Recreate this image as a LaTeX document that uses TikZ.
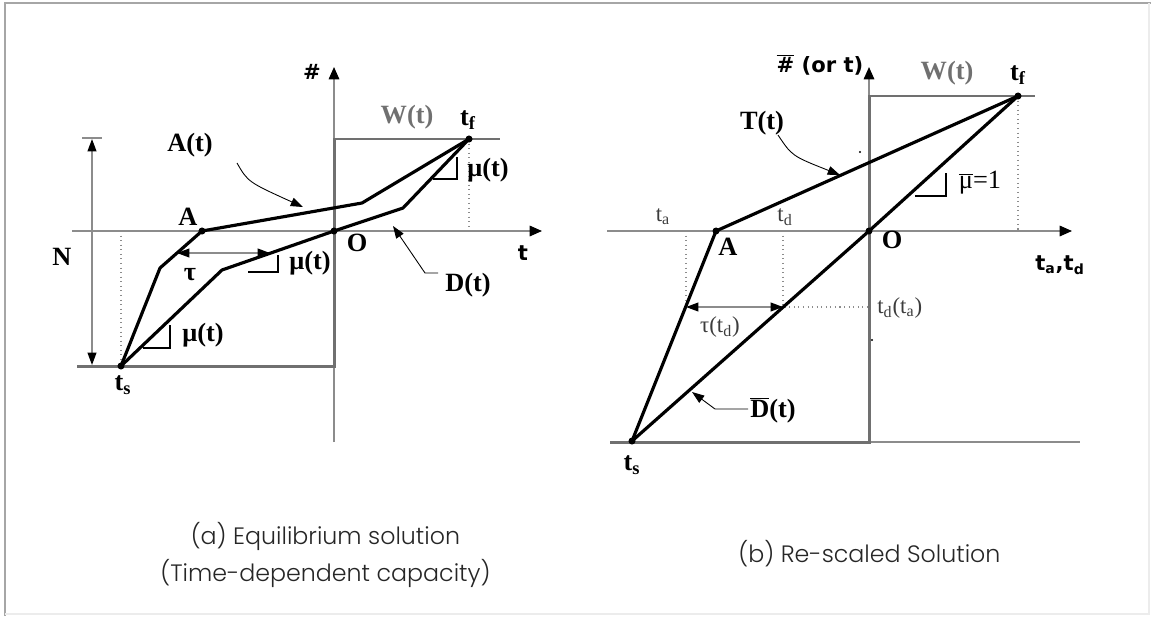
\documentclass[tikz,border=0pt]{standalone}
\usepackage{fontspec}
\setmainfont{Liberation Serif}
\newfontfamily\capfont{Poppins}[UprightFont={* Light}]
\newfontfamily\axfont{DejaVu Sans}
\usetikzlibrary{arrows.meta}
\definecolor{wgray}{RGB}{112,112,112}
\definecolor{agray}{RGB}{140,140,140}
\definecolor{txtgray}{RGB}{60,60,60}
\tikzset{
  axisline/.style={draw=agray, line width=0.8pt},
  axistip/.style={-{Triangle[length=7pt,width=6pt,color=black]}},
  twotip/.style={{Triangle[length=7pt,width=5pt,color=black]}-{Triangle[length=7pt,width=5pt,color=black]}},
  wline/.style={draw=wgray, line width=1.7pt},
  curve/.style={draw=black, line width=1.8pt, line join=round},
  guide/.style={draw=agray, dotted, line width=0.6pt},
  slope/.style={draw=black, line width=0.6pt},
  leader/.style={draw=black, line width=0.5pt, -{Triangle[length=7pt,width=5pt]}},
  lbl/.style={font=\fontsize{15}{17}\selectfont\bfseries, inner sep=0pt},
  rlbl/.style={font=\fontsize{15}{17}\selectfont, inner sep=0pt},
  sublbl/.style={font=\fontsize{13}{15}\selectfont, text=txtgray, inner sep=0pt},
  axlbl/.style={font=\fontsize{12}{14}\selectfont\axfont\bfseries, inner sep=0pt},
  caption/.style={font=\fontsize{13.5}{21}\selectfont\capfont, text=black!85, inner sep=0pt, align=center},
}

\begin{document}
\begin{tikzpicture}[x=0.02cm, y=-0.02cm]
\useasboundingbox (0,0) rectangle (1151,616);
\draw[draw=gray!70, line width=0.8pt] (5,616) -- (5,3) -- (1151,3);
\draw[draw=gray!15, line width=0.8pt] (1149,3) -- (1149,614) -- (5,614);

\coordinate (O1) at (334,231);
\coordinate (ya1) at (334,442);
\coordinate (yb1) at (334,67);
\coordinate (xa1) at (72,231);
\coordinate (xb1) at (542,231);
\coordinate (wa1) at (77,366);
\coordinate (wb1) at (334,366);
\coordinate (wc1) at (334,139);
\coordinate (wd1) at (500,139);
\coordinate (ts1) at (121,366);
\coordinate (tf1) at (469,139);
\coordinate (A1) at (202,231);
\coordinate (ak1) at (160,268);
\coordinate (ab1) at (362,203);
\coordinate (dk1) at (222,270);
\coordinate (db1) at (403,208);
\coordinate (nt1) at (92,139);
\coordinate (nb1) at (92,365);
\coordinate (taul1) at (177,253);
\coordinate (taur1) at (270,253);
\coordinate (ats1) at (237,163);
\coordinate (ate1) at (303,207);
\coordinate (dts1) at (438,273);
\coordinate (dte1) at (393,226);

\draw[axisline, axistip] (ya1) -- (yb1);
\draw[axisline, axistip] (xa1) -- (xb1);
\draw[wline] (wa1) -- (wb1) -- (wc1) -- (wd1);
\draw[guide] (ts1 |- O1) -- (ts1);
\draw[guide] (tf1) -- (tf1 |- O1);
\draw[axisline, twotip] (nt1) -- (nb1);
\draw[axisline] (nt1) +(-10,-1) -- +(10,-1);
\draw[curve] (ts1) -- (ak1) -- (A1) -- (ab1) -- (tf1);
\draw[curve] (ts1) -- (dk1) -- (O1) -- (db1) -- (tf1);
\draw[slope] (433,179) -- (457,179) -- (457,157);
\draw[slope] (248,272) -- (278,272) -- (278,255);
\draw[slope] (143,348) -- (170,348) -- (170,325);
\draw[axisline, twotip] (taul1) -- (taur1);
\fill (A1) circle (2pt) (O1) circle (2pt) (ts1) circle (2pt) (tf1) circle (2pt);
\draw[leader] (ats1) .. controls (248,182) .. (ate1);
\draw[leader] (dts1) -- (425,273) -- (dte1);

\node[axlbl] (hash1) at (312,72) {\#};
\node[lbl, text=wgray] (wt1) at (407,117) {W(t)};
\node[lbl] (tfl1) at (468,120) {t\textsubscript{f}};
\node[lbl] (at1) at (190,145) {A(t)};
\node[lbl] (al1) at (188,217) {A};
\node[lbl] (mua1) at (488,170) {μ(t)};
\node[lbl] (ol1) at (357,243) {O};
\node[axlbl] (tl1) at (523,253) {t};
\node[lbl] (dt1) at (468,285) {D(t)};
\node[lbl] (nl1) at (62,257) {N};
\node[lbl] (taulbl1) at (190,275) {τ};
\node[lbl] (mub1) at (310,263) {μ(t)};
\node[lbl] (muc1) at (203,335) {μ(t)};
\node[lbl] (tsl1) at (123,385) {t\textsubscript{s}};

\coordinate (O2) at (869,231);
\coordinate (yb2) at (869,67);
\coordinate (xa2) at (607,231);
\coordinate (xb2) at (1072,231);
\coordinate (wa2) at (610,442);
\coordinate (wb2) at (869,442);
\coordinate (wc2) at (869,96);
\coordinate (wd2) at (1035,96);
\coordinate (we2) at (1080,442);
\coordinate (ts2) at (632,441);
\coordinate (tf2) at (1018,96);
\coordinate (A2) at (716,231);
\coordinate (taul2) at (686,307);
\coordinate (taur2) at (783,307);
\coordinate (tts2) at (778,135);
\coordinate (tte2) at (840,175);
\coordinate (dbs2) at (748,409);
\coordinate (dbe2) at (692,392);

\draw[axisline, axistip] (wc2) -- (yb2);
\draw[axisline, axistip] (xa2) -- (xb2);
\draw[axisline] (wb2) -- (we2);
\draw[wline] (wa2) -- (wb2) -- (wc2) -- (wd2);
\draw[guide] (taul2 |- O2) -- (taul2);
\draw[guide] (taur2 |- O2) -- (taur2) -- (taur2 -| O2);
\draw[guide] (tf2) -- (tf2 |- O2);
\draw[curve] (ts2) -- (A2) -- (tf2);
\draw[curve] (ts2) -- (O2) -- (tf2);
\draw[slope] (915,196) -- (946,196) -- (946,173);
\draw[axisline, twotip] (taul2) -- (taur2);
\fill (A2) circle (2pt) (O2) circle (2pt) (ts2) circle (2pt) (tf2) circle (2pt);
\fill (860,152) circle (0.6pt) (872,340) circle (0.6pt);
\draw[leader] (tts2) .. controls (792,156) .. (tte2);
\draw[leader] (dbs2) -- (715,409) -- (dbe2);

\node[axlbl] (hash2) at (820,65) {\(\overline{\hbox{\#}}\) (or t)};
\node[lbl, text=wgray] (wt2) at (947,73) {W(t)};
\node[lbl] (tfl2) at (1018,75) {t\textsubscript{f}};
\node[lbl] (tt2) at (762,123) {T(t)};
\node[sublbl] (tal2) at (663,217) {t\textsubscript{a}};
\node[sublbl] (tdl2) at (785,217) {t\textsubscript{d}};
\node[lbl] (al2) at (728,247) {A};
\node[lbl] (ol2) at (892,240) {O};
\node[rlbl] (mul2) at (980,183) {\(\overline{\hbox{μ}}\)=1};
\node[axlbl] (tl2) at (1060,265) {t\textsubscript{a},t\textsubscript{d}};
\node[sublbl, anchor=west] (tdta2) at (877,308) {t\textsubscript{d}(t\textsubscript{a})};
\node[sublbl] (taulbl2) at (720,327) {τ(t\textsubscript{d})};
\node[lbl, anchor=west] (db2) at (750,410) {\(\overline{\hbox{D}}\)(t)};
\node[lbl] (tsl2) at (632,465) {t\textsubscript{s}};

\node[caption, anchor=north west] (capa) at (160,522) {(a) Equilibrium solution\\(Time-dependent capacity)};
\node[caption, anchor=north west] (capb) at (738,540) {(b) Re-scaled Solution};
\end{tikzpicture}
\end{document}
